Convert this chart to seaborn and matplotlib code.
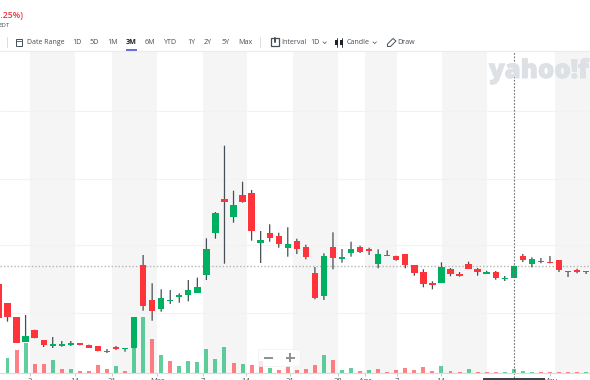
import matplotlib
matplotlib.use('Agg')
import matplotlib.pyplot as plt
import matplotlib.patheffects as pe
from matplotlib.patches import Rectangle, Polygon
import numpy as np
import pandas as pd
import seaborn as sns

# first visible session is -1, partly off the left edge
OPEN = [9.6, 7.67, 6.27, 3.8, 5.03, 3.97, 3.43, 3.4, 3.5, 3.67, 3.53, 3.4, 2.93, 3.3, 3.1, 3.17,
        11.5, 8.0, 7.13, 7.93, 8.33, 8.5, 8.73, 10.5, 14.7, 18.13, 16.27, 18.5, 18.67, 13.73, 14.7,
        14.43, 13.2, 13.87, 13.33, 10.7, 8.4, 13.33, 12.13, 12.67, 13.33, 13.1, 11.6, 12.53, 12.43,
        12.6, 11.5, 10.77, 9.67, 9.73, 11.07, 10.6, 11.63, 11.13, 10.6, 10.77, 10.13, 10.2, 12.4,
        11.63, 11.93, 11.83, 12.0, 10.77, 11.0, 10.77]
CLOSE = [6.2, 6.33, 3.73, 4.4, 4.17, 3.5, 3.6, 3.57, 3.7, 3.47, 3.23, 2.87, 2.77, 3.13, 3.17, 6.3,
         7.43, 6.9, 8.2, 8.03, 8.5, 9.0, 9.33, 13.1, 16.67, 17.83, 17.5, 17.8, 14.87, 14.03, 14.2,
         13.63, 13.57, 13.13, 12.27, 8.2, 12.43, 12.2, 12.27, 13.1, 12.8, 12.93, 12.63, 12.4, 12.03,
         11.53, 10.73, 9.6, 9.53, 11.3, 10.6, 10.43, 11.13, 10.77, 10.77, 10.2, 10.23, 11.43, 11.97,
         12.1, 11.8, 11.67, 11.0, 10.9, 10.8, 10.9]
HIGH = [9.6, 7.67, 6.27, 6.5, 5.03, 3.97, 4.3, 3.9, 3.9, 3.67, 3.53, 3.4, 3.1, 3.4, 3.17, 6.3,
        12.5, 9.67, 9.07, 9.0, 8.67, 10.0, 10.23, 14.17, 16.8, 23.43, 18.93, 19.83, 19.0, 14.9, 15.57,
        14.73, 15.27, 14.13, 13.53, 11.3, 12.67, 14.77, 13.1, 13.83, 13.43, 13.23, 13.07, 12.97, 12.43,
        12.6, 11.5, 11.07, 9.87, 11.77, 11.2, 10.8, 11.83, 11.2, 10.93, 10.9, 10.4, 11.43, 12.6,
        12.27, 12.2, 12.4, 12.0, 10.9, 11.13, 10.9]
LOW = [6.2, 5.83, 3.73, 3.8, 4.17, 3.3, 3.2, 3.33, 3.4, 3.47, 3.23, 2.87, 2.7, 3.0, 2.83, 3.17,
       6.93, 5.93, 6.83, 7.6, 7.73, 7.87, 8.73, 10.0, 14.13, 11.63, 15.73, 17.73, 13.93, 11.7, 13.83,
       13.23, 12.33, 12.6, 12.07, 8.07, 8.0, 11.07, 11.73, 12.33, 12.7, 12.5, 11.17, 12.4, 11.93,
       11.17, 10.43, 9.27, 9.07, 9.73, 10.37, 10.33, 11.13, 10.43, 10.6, 10.03, 9.9, 10.2, 11.8,
       11.27, 11.67, 11.67, 10.8, 10.3, 10.67, 10.6]
VOLUME = [29, 15, 23, 30, 9, 9, 13, 4, 4, 2, 2, 8, 4, 7, 2, 32, 56, 34, 18, 12, 7, 12, 11, 24, 14, 26,
          10, 9, 8, 12, 5, 3, 7, 3, 4, 8, 18, 13, 3, 5, 2, 3, 4, 1, 3, 5, 3, 6, 2, 7, 2, 1, 4, 1,
          1, 1, 1, 4, 2, 1, 1, 1, 1, 1, 0.3, 0.5]
VOLUME_DIR = ['d', 'u', 'd', 'u', 'd', 'd', 'u', 'd', 'u', 'd', 'd', 'd', 'd', 'u', 'd', 'u', 'u', 'd', 'u', 'd',
              'u', 'u', 'u', 'u', 'u', 'u', 'd', 'u', 'd', 'd', 'u', 'd', 'd', 'd', 'd', 'd', 'u', 'd', 'u', 'u',
              'd', 'u', 'd', 'd', 'd', 'd', 'd', 'd', 'd', 'u', 'd', 'd', 'u', 'd', 'd', 'd', 'u', 'u', 'u', 'u',
              'd', 'd', 'd', 'd', 'd', 'u']

TICK_POS = [2.49, 7.47, 11.56, 16.54, 21.63, 26.4, 31.25, 36.56, 39.55, 43.09, 47.95, 60]
TICK_LABELS = ['3', '14', '21', 'Mar', '7', '14', '21', '28', 'Apr', '7', '14', 'May']
BANDS = [(2.5, 7.47), (11.56, 16.54), (21.6, 26.5), (31.6, 36.56), (39.55, 43.09), (48.07, 53.04), (60.56, 65)]
GRID_PRICES = [6.73, 13.5, 20.1, 26.9]
LAST_PRICE = 11.4
CROSSHAIR = 56

RANGE_LABELS = ['1D', '5D', '1M', '3M', '6M', 'YTD', '1Y', '2Y', '5Y', 'Max']
RANGE_X = [72, 89, 107, 126, 145, 164, 187, 204, 221, 238]

GREEN = '#00b061'
RED = '#ff333a'
TEXT = '#464e56'

sns.set_theme(style='white')
plt.rcParams['font.family'] = ['Open Sans', 'DejaVu Sans']

df = pd.DataFrame({'idx': np.arange(len(OPEN)) - 1, 'open': OPEN, 'close': CLOSE, 'high': HIGH, 'low': LOW,
                   'volume': VOLUME, 'vol_dir': VOLUME_DIR})
df['body'] = (df['close'] - df['open']).abs()
df['bottom'] = df[['open', 'close']].min(axis=1)
df['dir'] = np.where(df['close'] >= df['open'], 'u', 'd')

fig = plt.figure(figsize=(5.9, 3.8), dpi=100)
ax = fig.add_axes([0, 7.5 / 380, 1, 321.5 / 380])
ax.set_facecolor('white')

for lo, hi in BANDS:
    ax.axvspan(lo, hi, color='#f5f5f5', lw=0, zorder=0)

wicks = ax.vlines(df['idx'], df['low'], df['high'], color=TEXT, lw=0.9, zorder=2)
wicks.set_snap(False)
for d, color in (('u', GREEN), ('d', RED)):
    part = df[df['dir'] == d]
    sns.barplot(x=part['idx'].values, y=part['body'].values, bottom=part['bottom'].values, color=color,
                native_scale=True, width=0.7, errorbar=None, saturation=1, linewidth=0, zorder=3, ax=ax)

ax.set_yticks(GRID_PRICES)
ax.grid(axis='y', color='#f2f2f2', lw=0.8)
ax.set_axisbelow(True)
ax.axhline(LAST_PRICE, color='#b5b5b5', lw=1, ls=(0, (1, 1.5)), zorder=1)
ax.axvline(CROSSHAIR, ymin=-0.03, color='#6e6e6e', lw=0.8, ls=(0, (1.5, 1.5)), zorder=5, clip_on=False)

ax2 = ax.twinx()
ax2.patch.set_visible(False)
sns.barplot(data=df, x='idx', y='volume', hue='vol_dir', palette={'u': GREEN, 'd': RED}, native_scale=True,
            dodge=False, width=0.44, errorbar=None, saturation=1, alpha=0.62, linewidth=0, legend=False, ax=ax2)
ax2.set_ylim(0, 321.5)
ax2.set_yticks([])
ax2.set_ylabel('')
ax2.set_xlabel('')

ax.set_ylim(0.75, 32.9)
ax.set_xlim(-0.83, 64.43)
ax.set_xticks(TICK_POS)
ax.set_xticklabels(TICK_LABELS, fontsize=5.5, color=TEXT)
ax.set_yticklabels([])
ax.tick_params(axis='x', length=2.5, width=0.7, color='#c8c8c8', pad=1.6, bottom=True)
ax.tick_params(axis='y', length=0)
ax.set_xlabel('')
ax.set_ylabel('')
for a in (ax, ax2):
    for name in ('top', 'left', 'right'):
        a.spines[name].set_visible(False)
    a.spines['bottom'].set_color('#dcdcdc')
    a.spines['bottom'].set_linewidth(0.8)

# page furniture, in pixel positions of the screenshot
ov = fig.add_axes([0, 0, 1, 1], zorder=10)
ov.set_xlim(0, 590)
ov.set_ylim(380, 0)
ov.axis('off')

ov.text(24, 16, '(-0.25%)', color='#f0323c', fontsize=6.2, fontweight='semibold', ha='right', va='center')
ov.text(10, 25.5, 'EDT', color=TEXT, fontsize=4.4, ha='right', va='center')
ov.plot([0, 590], [50.5, 50.5], color='#ececec', lw=0.8)
ov.plot([6.5, 6.5], [37, 47], color='#dcdcdc', lw=0.7)
ov.plot([260, 260], [37, 47], color='#dcdcdc', lw=0.7)

ov.text(27, 42.5, 'Date Range', color=TEXT, fontsize=5.0, va='center')
for label, x in zip(RANGE_LABELS, RANGE_X):
    active = label == '3M'
    ov.text(x, 42.5, label, color='#1d2228' if active else TEXT, fontsize=5.1, va='center',
            fontweight='bold' if active else 'normal')
ov.plot([125.5, 136.5], [49.7, 49.7], color='#3b46c4', lw=1.1, solid_capstyle='butt')

ov.add_patch(Rectangle((15.5, 39), 6.5, 6.5, fc='none', ec=TEXT, lw=0.7))
ov.plot([15.5, 22], [41, 41], color=TEXT, lw=0.6)
ov.add_patch(Rectangle((270.5, 38), 8, 8, fc='none', ec=TEXT, lw=0.9))
ov.plot([274.5, 274.5], [38, 42], color=TEXT, lw=1.4)

ov.text(281, 42.5, 'Interval', color=TEXT, fontsize=5.1, va='center')
ov.text(310, 42.5, '1D', color=TEXT, fontsize=5.1, va='center')
ov.plot([323, 324.7, 326.4], [41.8, 43.6, 41.8], color=TEXT, lw=0.5)

ov.plot([336.5, 336.5], [37.5, 47], color='#1d2228', lw=0.6)
ov.add_patch(Rectangle((335, 39.5), 3, 5.5, fc='#1d2228', ec='none'))
ov.plot([341.5, 341.5], [37.5, 47], color='#1d2228', lw=0.6)
ov.add_patch(Rectangle((340, 40), 3, 5, fc='#1d2228', ec='none'))
ov.text(347, 42.5, 'Candle', color=TEXT, fontsize=5.1, va='center')
ov.plot([373, 374.7, 376.4], [41.8, 43.6, 41.8], color=TEXT, lw=0.5)

ov.add_patch(Polygon([[387.5, 44], [393, 38.5], [396, 41], [390.5, 46.5], [387.5, 46.5]], fc='none', ec=TEXT, lw=0.7))
ov.text(397, 42.5, 'Draw', color=TEXT, fontsize=5.1, va='center')

logo = ov.text(489, 71, 'yahoo!finance', color='#dde0e4', fontsize=18.5, fontweight='heavy', va='center', zorder=1)
logo.set_path_effects([pe.withStroke(linewidth=0.7, foreground='#dde0e4')])

ov.add_patch(Rectangle((258, 349), 42, 17, fc='white', ec='#f0f0f0', lw=0.6, alpha=0.8))
ov.plot([264, 272.5], [357.5, 357.5], color='#8b9096', lw=1.4, solid_capstyle='butt')
ov.plot([286, 294.5], [357.5, 357.5], color='#8b9096', lw=1.4, solid_capstyle='butt')
ov.plot([290.2, 290.2], [353.2, 361.8], color='#8b9096', lw=1.4, solid_capstyle='butt')

ov.add_patch(Rectangle((483, 378), 62, 3, fc='#3f444a', ec='none'))

fig.savefig('out.png', dpi=100)
